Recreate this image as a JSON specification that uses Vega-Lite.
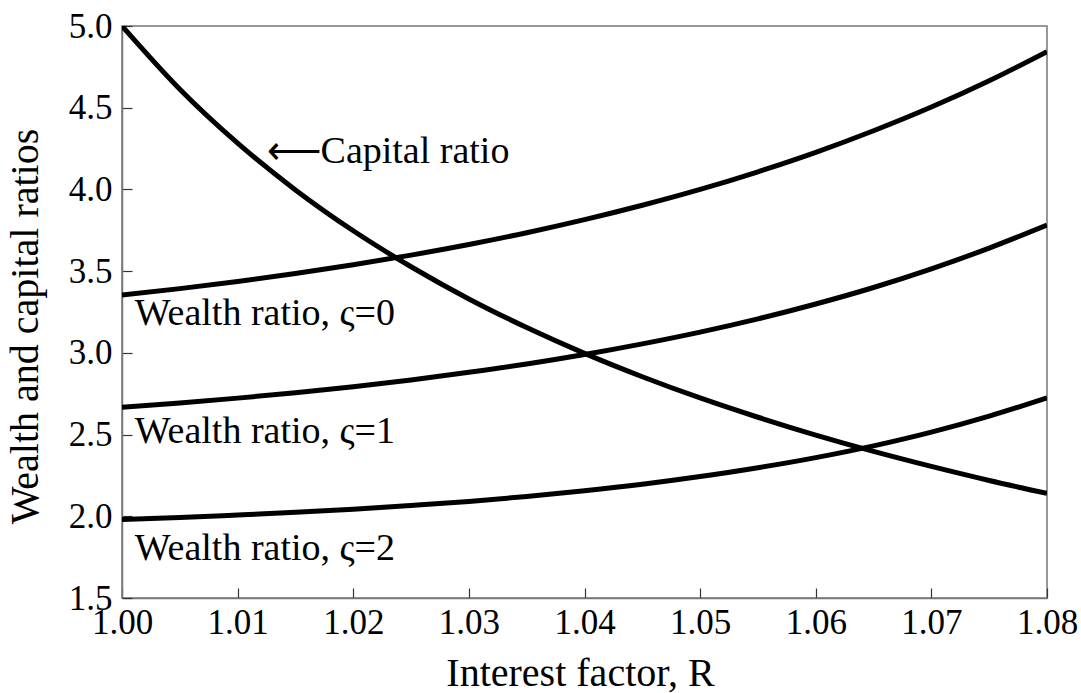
{
  "$schema": "https://vega.github.io/schema/vega-lite/v6.json",
  "width": 925,
  "height": 572,
  "autosize": {"type": "none"},
  "padding": {"left": 122, "top": 26, "right": 34, "bottom": 95},
  "background": "white",
  "config": {
    "view": {"stroke": "#777777", "strokeWidth": 1.5},
    "font": "Liberation Serif",
    "axis": {"grid": false}
  },
  "datasets": {
    "curves": [
      {"R": 1.000, "v": 5.000, "s": "capital"},
      {"R": 1.005, "v": 4.613, "s": "capital"},
      {"R": 1.010, "v": 4.283, "s": "capital"},
      {"R": 1.015, "v": 3.997, "s": "capital"},
      {"R": 1.020, "v": 3.747, "s": "capital"},
      {"R": 1.025, "v": 3.527, "s": "capital"},
      {"R": 1.030, "v": 3.330, "s": "capital"},
      {"R": 1.035, "v": 3.155, "s": "capital"},
      {"R": 1.040, "v": 2.997, "s": "capital"},
      {"R": 1.045, "v": 2.854, "s": "capital"},
      {"R": 1.050, "v": 2.724, "s": "capital"},
      {"R": 1.055, "v": 2.606, "s": "capital"},
      {"R": 1.060, "v": 2.497, "s": "capital"},
      {"R": 1.065, "v": 2.397, "s": "capital"},
      {"R": 1.070, "v": 2.305, "s": "capital"},
      {"R": 1.075, "v": 2.219, "s": "capital"},
      {"R": 1.080, "v": 2.140, "s": "capital"},
      {"R": 1.000, "v": 3.354, "s": "w0"},
      {"R": 1.005, "v": 3.393, "s": "w0"},
      {"R": 1.010, "v": 3.437, "s": "w0"},
      {"R": 1.015, "v": 3.485, "s": "w0"},
      {"R": 1.020, "v": 3.539, "s": "w0"},
      {"R": 1.025, "v": 3.598, "s": "w0"},
      {"R": 1.030, "v": 3.663, "s": "w0"},
      {"R": 1.035, "v": 3.735, "s": "w0"},
      {"R": 1.040, "v": 3.815, "s": "w0"},
      {"R": 1.045, "v": 3.903, "s": "w0"},
      {"R": 1.050, "v": 4.000, "s": "w0"},
      {"R": 1.055, "v": 4.108, "s": "w0"},
      {"R": 1.060, "v": 4.227, "s": "w0"},
      {"R": 1.065, "v": 4.359, "s": "w0"},
      {"R": 1.070, "v": 4.504, "s": "w0"},
      {"R": 1.075, "v": 4.665, "s": "w0"},
      {"R": 1.080, "v": 4.843, "s": "w0"},
      {"R": 1.000, "v": 2.667, "s": "w1"},
      {"R": 1.005, "v": 2.693, "s": "w1"},
      {"R": 1.010, "v": 2.723, "s": "w1"},
      {"R": 1.015, "v": 2.756, "s": "w1"},
      {"R": 1.020, "v": 2.793, "s": "w1"},
      {"R": 1.025, "v": 2.834, "s": "w1"},
      {"R": 1.030, "v": 2.881, "s": "w1"},
      {"R": 1.035, "v": 2.932, "s": "w1"},
      {"R": 1.040, "v": 2.990, "s": "w1"},
      {"R": 1.045, "v": 3.055, "s": "w1"},
      {"R": 1.050, "v": 3.127, "s": "w1"},
      {"R": 1.055, "v": 3.208, "s": "w1"},
      {"R": 1.060, "v": 3.299, "s": "w1"},
      {"R": 1.065, "v": 3.400, "s": "w1"},
      {"R": 1.070, "v": 3.514, "s": "w1"},
      {"R": 1.075, "v": 3.641, "s": "w1"},
      {"R": 1.080, "v": 3.782, "s": "w1"},
      {"R": 1.000, "v": 1.981, "s": "w2"},
      {"R": 1.005, "v": 1.993, "s": "w2"},
      {"R": 1.010, "v": 2.008, "s": "w2"},
      {"R": 1.015, "v": 2.024, "s": "w2"},
      {"R": 1.020, "v": 2.043, "s": "w2"},
      {"R": 1.025, "v": 2.066, "s": "w2"},
      {"R": 1.030, "v": 2.091, "s": "w2"},
      {"R": 1.035, "v": 2.121, "s": "w2"},
      {"R": 1.040, "v": 2.156, "s": "w2"},
      {"R": 1.045, "v": 2.196, "s": "w2"},
      {"R": 1.050, "v": 2.243, "s": "w2"},
      {"R": 1.055, "v": 2.297, "s": "w2"},
      {"R": 1.060, "v": 2.359, "s": "w2"},
      {"R": 1.065, "v": 2.431, "s": "w2"},
      {"R": 1.070, "v": 2.515, "s": "w2"},
      {"R": 1.075, "v": 2.613, "s": "w2"},
      {"R": 1.080, "v": 2.725, "s": "w2"}
    ],
    "labels": [
      {"x": 1.0011, "y": 3.170, "label": "Wealth ratio, ς=0"},
      {"x": 1.0011, "y": 2.446, "label": "Wealth ratio, ς=1"},
      {"x": 1.0011, "y": 1.732, "label": "Wealth ratio, ς=2"},
      {"x": 1.0125, "y": 4.160, "label": "⟵Capital ratio"}
    ]
  },
  "layer": [
    {
      "data": {"name": "curves"},
      "mark": {"type": "line", "color": "black", "strokeWidth": 5, "interpolate": "monotone", "clip": true},
      "encoding": {
        "x": {
          "field": "R", "type": "quantitative",
          "scale": {"domain": [1.0, 1.08], "nice": false, "zero": false},
          "axis": {
            "title": "Interest factor, R",
            "values": [1.0, 1.01, 1.02, 1.03, 1.04, 1.05, 1.06, 1.07, 1.08],
            "format": ".2f",
            "domainColor": "#777777", "domainWidth": 1.5,
            "tickColor": "#333333", "tickWidth": 1.2, "tickSize": -10,
            "labelFont": "Liberation Serif", "labelFontSize": 35, "labelColor": "black",
            "labelPadding": 17, "labelFlush": false, "labelOverlap": false,
            "titleFont": "Liberation Serif", "titleFontSize": 40, "titleFontWeight": "normal", "titleColor": "black",
            "titleBaseline": "alphabetic", "titleX": 458, "titleY": 87
          }
        },
        "y": {
          "field": "v", "type": "quantitative",
          "scale": {"domain": [1.5, 5.0], "nice": false, "zero": false},
          "axis": {
            "title": "Wealth and capital ratios",
            "values": [1.5, 2.0, 2.5, 3.0, 3.5, 4.0, 4.5, 5.0],
            "format": ".1f",
            "domainColor": "#777777", "domainWidth": 1.5,
            "tickColor": "#333333", "tickWidth": 1.2, "tickSize": -10,
            "labelFont": "Liberation Serif", "labelFontSize": 35, "labelColor": "black",
            "labelPadding": 20, "labelFlush": false, "labelOverlap": false,
            "titleFont": "Liberation Serif", "titleFontSize": 40, "titleFontWeight": "normal", "titleColor": "black",
            "titleBaseline": "alphabetic", "titleX": -85, "titleY": 300
          }
        },
        "detail": {"field": "s"}
      }
    },
    {
      "data": {"name": "labels"},
      "mark": {"type": "text", "align": "left", "baseline": "alphabetic", "fontSize": 38, "font": "Liberation Serif", "color": "black"},
      "encoding": {
        "x": {"field": "x", "type": "quantitative"},
        "y": {"field": "y", "type": "quantitative"},
        "text": {"field": "label"}
      }
    }
  ]
}
